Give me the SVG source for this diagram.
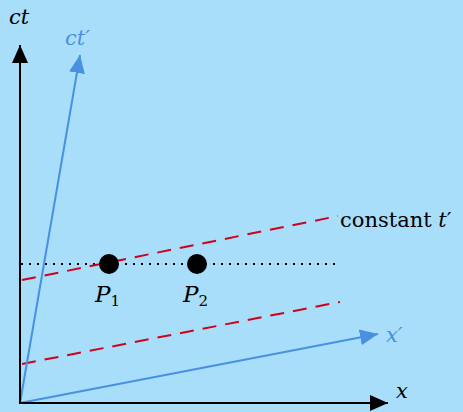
<svg xmlns="http://www.w3.org/2000/svg" width="463" height="412" viewBox="0 0 463 412">
<style>
.lbl{font-family:"DejaVu Serif","Liberation Serif",serif;font-size:21px;fill:#000}
.it{font-style:italic}
.blue{fill:#4a90e2}
.ax{stroke:#000;stroke-width:2;fill:none}
.bax{stroke:#4a90e2;stroke-width:2;fill:none}
.dash{stroke:#d0021b;stroke-width:2;stroke-dasharray:14,9;fill:none}
.dot{stroke:#000;stroke-width:2;stroke-dasharray:2,6;fill:none}
</style>
<defs>
<marker id="ah" markerUnits="userSpaceOnUse" markerWidth="20" markerHeight="18" refX="18" refY="8" orient="auto" viewBox="0 0 20 16">
<path d="M0,0 L18,8 L0,16 Z" fill="#000"/>
</marker>
<marker id="bh" markerUnits="userSpaceOnUse" markerWidth="20" markerHeight="18" refX="18" refY="8" orient="auto" viewBox="0 0 20 16">
<path d="M0,0 L18,8 L0,16 Z" fill="#4a90e2"/>
</marker>
</defs>
<rect width="463" height="412" fill="#a8def9"/>
<g id="connectors">
<line class="dot" x1="21" y1="264" x2="336" y2="264"/>
<line class="dash" x1="22" y1="280" x2="338" y2="216"/>
<line class="dash" x1="22" y1="364" x2="340" y2="302"/>
<line class="bax" x1="20" y1="403" x2="80" y2="55" marker-end="url(#bh)"/>
<line class="bax" x1="20" y1="403" x2="378" y2="334" marker-end="url(#bh)"/>
<line class="ax" x1="20" y1="403" x2="20" y2="45" marker-end="url(#ah)"/>
<line class="ax" x1="19" y1="403" x2="388" y2="403" marker-end="url(#ah)"/>
</g>
<g id="P1"><circle cx="109" cy="264" r="10" fill="#000"/>
<text class="lbl" x="95" y="302"><tspan class="it" font-size="23">P</tspan><tspan font-size="15" dy="4">1</tspan></text></g>
<g id="P2"><circle cx="197" cy="264" r="10" fill="#000"/>
<text class="lbl" x="183" y="302"><tspan class="it" font-size="23">P</tspan><tspan font-size="15" dy="4">2</tspan></text></g>
<g id="label-ct"><text class="lbl it" x="9" y="24">ct</text></g>
<g id="label-ctp"><text class="lbl it blue" x="65" y="45">ct′</text></g>
<g id="label-x"><text class="lbl it" x="396" y="398">x</text></g>
<g id="label-xp"><text class="lbl it blue" x="386" y="342">x′</text></g>
<g id="label-const"><text class="lbl" x="340" y="227">constant <tspan class="it">t</tspan>′</text></g>
</svg>
